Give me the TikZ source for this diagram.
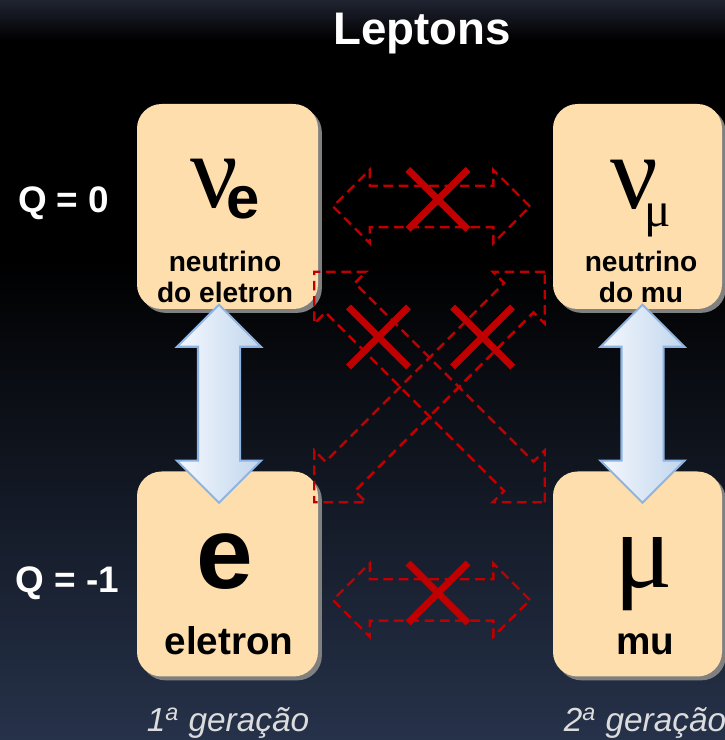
\documentclass[tikz,border=0pt]{standalone}
\usepackage{fontspec}
\setmainfont{Liberation Sans}
\newfontfamily\grkfont{Liberation Serif}
\definecolor{lpeach}{RGB}{253,222,172}
\definecolor{lred}{RGB}{192,0,0}
\definecolor{lshadow}{RGB}{128,128,128}
\definecolor{lbluelight}{RGB}{244,248,253}
\definecolor{lbluedark}{RGB}{194,214,238}
\definecolor{lblueline}{RGB}{141,180,226}
\definecolor{bgtop}{RGB}{32,36,50}
\definecolor{bgbottom}{RGB}{38,50,74}
\definecolor{lgray}{RGB}{220,220,220}
\usetikzlibrary{positioning,calc,shapes.arrows,shapes.misc,shadows}

\begin{document}
\begin{tikzpicture}[
  leptonbox/.style={fill=lpeach,rounded corners=14pt,minimum width=3.62cm,minimum height=4.1cm,
    drop shadow={shadow xshift=2.2pt,shadow yshift=-2.2pt,fill=lshadow,opacity=1}},
  qlabel/.style={text=white,font=\fontsize{21}{21}\selectfont\bfseries,inner sep=0pt},
  namelabel/.style={anchor=base,align=center,inner sep=0pt,font=\fontsize{16}{18}\selectfont\bfseries},
  bigname/.style={anchor=base,inner sep=0pt,font=\fontsize{22}{22}\selectfont\bfseries},
  gen/.style={anchor=base,inner sep=0pt,text=lgray,font=\fontsize{19}{19}\selectfont\itshape},
  forbidden/.style={double arrow,draw=lred,line width=1.4pt,dash pattern=on 5.5pt off 3.2pt,
    minimum height=3.94cm,double arrow head extend=0.32cm,inner xsep=0pt,inner ysep=0.39cm},
  nope/.style={cross out,draw=lred,line width=4pt,minimum size=1.2cm,inner sep=0pt,outer sep=0pt},
  mixing/.style={double arrow,draw=lblueline,line width=1.2pt,left color=lbluelight,right color=lbluedark,
    minimum height=3.96cm,double arrow head extend=0.42cm,inner xsep=0pt,inner ysep=0.4cm,rotate=90}
]
  % Background
  \useasboundingbox (0,0) rectangle (14.5,14.8);
  \fill[top color=black,bottom color=bgbottom] (0,0) rectangle (14.5,9.6);
  \fill[black] (0,9.55) rectangle (14.5,14.05);
  \fill[top color=bgtop,bottom color=black] (0,14) rectangle (14.5,14.8);
  \node[anchor=base,inner sep=0pt,text=white,font=\fontsize{26}{26}\selectfont\bfseries] (title) at (8.44,13.9) {Leptons};

  % Boxes
  \node[leptonbox] (nue) at (4.55,10.67) {};
  \node[leptonbox,minimum width=3.38cm] (num) at (12.75,10.67) {};
  \node[leptonbox] (el) at (4.55,3.32) {};
  \node[leptonbox,minimum width=3.38cm] (mu) at (12.75,3.32) {};

  % Symbols and names
  \node[anchor=base,inner sep=0pt] (nuesym) at ($(nue.center)+(-0.05,-0.03)$)
    {{\fontsize{60}{60}\selectfont\grkfont ν}\kern-7pt\lower6pt\hbox{\fontsize{34}{34}\selectfont\bfseries e}};
  \node[namelabel] (nuename) at ($(nue.center)+(-0.05,-1.93)$) {neutrino\\do eletron};
  \node[anchor=base,inner sep=0pt] (numsym) at ($(num.center)+(0.06,-0.05)$)
    {{\fontsize{60}{60}\selectfont\grkfont ν}\kern-8pt\lower10pt\hbox{\fontsize{28}{28}\selectfont\grkfont μ}};
  \node[namelabel] (numname) at ($(num.center)+(0.07,-1.93)$) {neutrino\\do mu};
  \node[anchor=base,inner sep=0pt] (elsym) at ($(el.center)+(-0.05,-0.30)$) {\fontsize{58}{58}\selectfont\bfseries e};
  \node[bigname] (elname) at ($(el.center)+(0.03,-1.62)$) {eletron};
  \node[anchor=base,inner sep=0pt] (musym) at ($(mu.center)+(0.13,-0.28)$) {\fontsize{62}{62}\selectfont\grkfont μ};
  \node[bigname] (muname) at ($(mu.center)+(0.15,-1.62)$) {mu};

  % Charges and generations
  \node[qlabel,left=0.54cm of nue,yshift=0.07cm] (q0) {Q = 0};
  \node[qlabel,left=0.34cm of el,yshift=-0.18cm] (q1) {Q = -1};
  \node[gen] (gen1) at ($(el.south)+(0.01,-1.09)$) {1\textsuperscript{a} geração};
  \node[gen] (gen2) at ($(mu.south)+(0.15,-1.09)$) {2\textsuperscript{a} geração};

  % Forbidden transitions
  \node[forbidden] (xtop) at ($(nue.east)!0.5!(num.west)+(-0.08,0)$) {};
  \node[forbidden] (xbot) at ($(el.east)!0.5!(mu.west)+(-0.08,-0.52)$) {};
  \node[forbidden,minimum height=6.52cm,rotate=-45] (xa) at ($(nue)!0.5!(mu)+(-0.06,0.065)$) {};
  \node[forbidden,minimum height=6.52cm,rotate=45] (xb) at ($(num)!0.5!(el)+(-0.06,0.065)$) {};
  \node[nope] (notop) at ($(xtop)+(0.13,0.14)$) {};
  \node[nope] (nobot) at ($(xbot)+(0.13,0.14)$) {};
  \node[nope] (noa) at ($(xa)+(-1.02,1.0)$) {};
  \node[nope] (nob) at ($(xb)+(1.06,1.0)$) {};

  % Allowed transitions
  \node[mixing] (mix1) at ($(nue.south)!0.5!(el.north)+(-0.17,-0.27)$) {};
  \node[mixing] (mix2) at ($(num.south)!0.5!(mu.north)+(0.10,-0.27)$) {};
\end{tikzpicture}
\end{document}
